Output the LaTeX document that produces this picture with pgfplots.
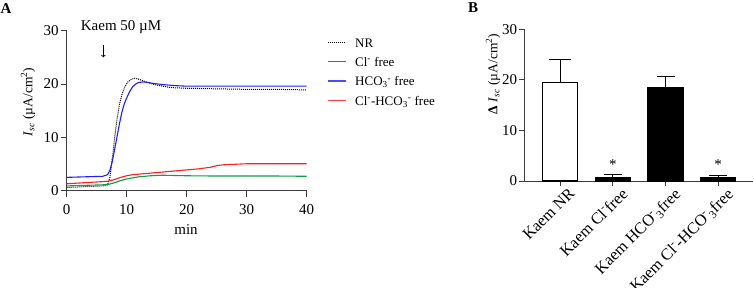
\documentclass[border=0pt]{standalone}
\usepackage{pgfplots}
\pgfplotsset{compat=1.18}
\usepackage{fontspec}
\setmainfont{Liberation Serif}
\definecolor{cgreen}{RGB}{10,160,70}
\definecolor{cblue}{RGB}{30,30,255}
\definecolor{cred}{RGB}{255,30,30}
\definecolor{axgray}{RGB}{60,60,60}
\newcommand{\fs}[1]{\fontsize{#1}{#1}\selectfont}
\begin{document}
\begin{tikzpicture}[x=1pt,y=1pt]
\useasboundingbox (0pt,0pt) rectangle (754pt,288pt);
% ---------------- Panel A ----------------
\begin{axis}[
  at={(66.7pt,97.3pt)}, anchor=south west,
  width=240pt, height=160pt, scale only axis,
  xmin=0, xmax=40, ymin=0, ymax=30,
  axis lines*=left,
  axis line style={axgray, line width=0.9pt},
  every tick/.style={axgray, line width=0.9pt},
  tick align=outside, major tick length=6pt,
  xtick={0,10,20,30,40}, ytick={0,10,20,30},
  /pgf/number format/assume math mode=true,
  tick label style={font=\fs{15}, inner sep=1pt},
  xticklabel style={yshift=-6.5pt},
  yticklabel style={xshift=-1pt},
  clip=false,
]
\addplot[black, densely dotted, line width=1pt] coordinates {
(0,0.6) (2,0.7) (4,0.8) (6,0.9) (6.8,1.1) (7.2,2.5) (7.6,6) (8.0,10) (8.4,13.5)
(8.8,16.2) (9.2,18) (9.7,19.5) (10.2,20.4) (10.8,20.9) (11.4,21.1) (12,20.9)
(13,20.5) (14,20.1) (15,19.8) (16,19.6) (17,19.4) (18,19.3) (20,19.2) (25,19.1)
(30,19.0) (35,19.0) (40,18.9)};
\addplot[cgreen, line width=1.1pt] coordinates {
(0,0.9) (3,1.0) (6,1.1) (7,1.2) (8,1.5) (9,1.9) (10,2.2) (11,2.4) (12,2.6)
(13,2.7) (14,2.8) (16,2.9) (18,2.85) (20,2.8) (25,2.75) (30,2.75) (35,2.75) (40,2.7)};
\addplot[cblue, line width=1.1pt] coordinates {
(0,2.5) (3,2.6) (6,2.7) (6.8,3.0) (7.2,3.8) (7.6,5.5) (8.0,7.8) (8.4,10.2)
(8.8,12.6) (9.2,14.7) (9.6,16.3) (10,17.4) (10.5,18.6) (11,19.5) (11.5,20.0)
(12,20.3) (12.8,20.4) (13.5,20.3) (14.5,20.1) (16,19.9) (18,19.7) (20,19.6)
(30,19.6) (40,19.6)};
\addplot[cred, line width=1.1pt] coordinates {
(0,1.3) (3,1.5) (6,1.7) (7,1.8) (8,2.1) (9,2.5) (10,2.8) (11,3.0) (12,3.1)
(14,3.3) (16,3.5) (18,3.7) (20,3.9) (22,4.1) (24,4.4) (25,4.7) (26,4.85)
(28,4.95) (30,5.05) (35,5.05) (40,5.05)};
\draw[->, line width=0.8pt, black] (axis cs:6.1,27.4) -- (axis cs:6.1,25.0);
\end{axis}
% legend
\draw[black, densely dotted, line width=1pt] (328pt,245.3pt) -- (346pt,245.3pt);
\draw[draw={rgb,255:red,0;green,165;blue,60}, line width=1.4pt] (328pt,226.5pt) -- (346pt,226.5pt);
\draw[cblue!80!white, line width=1.1pt] (328pt,207pt) -- (346pt,207pt);
\draw[cred!85!white, line width=1.1pt] (328pt,187.3pt) -- (346pt,187.3pt);
\node[font=\fs{13}, anchor=base west, inner sep=0pt] at (355pt,240.8pt) {NR};
\node[font=\fs{13}, anchor=base west, inner sep=0pt] at (355pt,221.8pt) {Cl\textsuperscript{-} free};
\node[font=\fs{13}, anchor=base west, inner sep=0pt] at (355pt,202.5pt) {HCO\textsubscript{3}\textsuperscript{-} free};
\node[font=\fs{13}, anchor=base west, inner sep=0pt] at (355pt,182.8pt) {Cl\textsuperscript{-}-HCO\textsubscript{3}\textsuperscript{-} free};
\node[font=\fs{15}] at (121pt,261pt) {Kaem 50 µM};
\node[font=\fs{15}] at (186pt,58pt) {min};
\node[font=\fs{13.5}, rotate=90] at (28pt,186pt)
  {\textit{I}\textsubscript{\textit{sc}} (µA/cm\textsuperscript{2})};
\node[font=\fs{15}\bfseries] at (6pt,279.5pt) {A};
% ---------------- Panel B ----------------
\begin{axis}[
  at={(524.3pt,107pt)}, anchor=south west,
  width=228.7pt, height=151.7pt, scale only axis,
  xmin=-0.68, xmax=3.66, ymin=0, ymax=30,
  axis lines*=left,
  axis line style={axgray, line width=0.9pt},
  every tick/.style={axgray, line width=0.9pt},
  tick align=outside, major tick length=5pt,
  xtick={0,1,2,3}, ytick={0,10,20,30},
  xticklabels={Kaem NR, Kaem Cl\textsuperscript{-}free,
    Kaem HCO\textsuperscript{-}\textsubscript{3}free,
    Kaem Cl\textsuperscript{-}-HCO\textsuperscript{-}\textsubscript{3}free},
  /pgf/number format/assume math mode=true,
  yticklabel style={font=\fs{15}, inner sep=1pt, xshift=-1pt},
  xticklabel style={font=\fs{16.3}, rotate=45, anchor=north east, inner sep=1pt, xshift=6pt, yshift=-5pt},
  clip=false,
]
\addplot[ybar, bar shift=0pt, bar width=35pt, fill=white, draw=black, line width=1.2pt,
  error bars/.cd, y dir=plus, y explicit, error mark=|,
  error bar style={black, line width=1pt},
  error mark options={black, mark size=11pt, line width=1pt}]
  coordinates {(0,19.5) +- (0,4.6)};
\addplot[ybar, bar shift=0pt, bar width=35pt, fill=black, draw=black, line width=1.2pt,
  error bars/.cd, y dir=plus, y explicit, error mark=|,
  error bar style={black, line width=1pt},
  error mark options={black, mark size=9pt, line width=1pt}]
  coordinates {(1,0.7) +- (0,0.5) (2,18.4) +- (0,2.2) (3,0.7) +- (0,0.45)};
\node[font=\fs{15}] at (axis cs:1,3.2) {*};
\node[font=\fs{15}] at (axis cs:3,3.2) {*};
\end{axis}
\node[font=\fs{13.5}, rotate=90] at (493pt,214pt)
  {\textbf{Δ} \textit{I}\textsubscript{\textit{sc}} (µA/cm\textsuperscript{2})};
\node[font=\fs{15}\bfseries] at (473pt,280pt) {B};
\end{tikzpicture}
\end{document}
